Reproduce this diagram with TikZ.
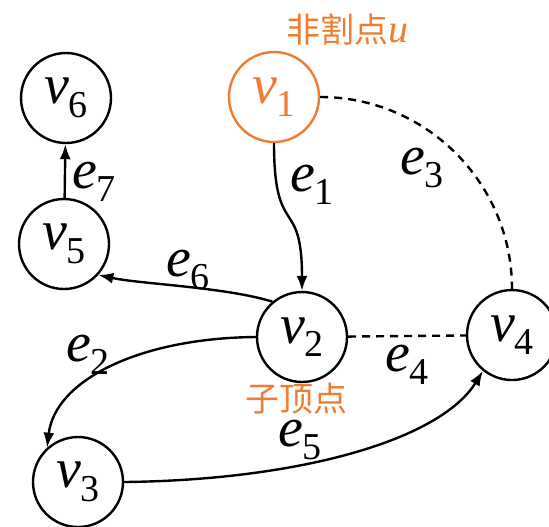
\documentclass[tikz,border=0pt]{standalone}
\usepackage{fontspec}
\setmainfont{Liberation Serif}
\newfontfamily\cjk{Noto Sans CJK SC}
\newfontfamily\tms{Liberation Serif}[ItalicFont={Liberation Serif Italic}]
\usepackage{tikz}
\usetikzlibrary{arrows.meta}
\definecolor{cutorange}{RGB}{237,125,49}
% letter with subscript
\newcommand{\vlab}[2]{{\tms\textit{#1}\raisebox{-0.24em}{\fontsize{19}{19}\selectfont #2}}}

\begin{document}
\begin{tikzpicture}[x=0.5pt, y=-0.5pt, line width=1.2pt,
    font=\fontsize{28}{30}\selectfont,
    vtx/.style={circle, draw, minimum size=45pt, inner sep=0pt},
    arr/.style={-{Latex[length=7.5pt,width=5.5pt]}},
    tag/.style={text=cutorange, font=\fontsize{17}{20}\selectfont}]
        \useasboundingbox (0,0) rectangle (549,526);

        % Vertices
        \node[vtx, draw=cutorange, text=cutorange] (v1) at (274,97) {\vlab{v}{1}};
        \foreach \n/\x/\y in {2/302/337, 3/78/482, 4/512/335, 5/64/244, 6/66/98} {
            \node[vtx] (v\n) at (\x,\y) {\vlab{v}{\n}};
        }

        % Edges
        \draw[arr] (v1) .. controls (274,240) and (302,195) .. (v2);
        \draw[dashed, dash pattern=on 4pt off 3pt] (v1) .. controls (426,97) and (512,183) .. (v4);
        \draw[arr] (v2.west) .. controls (140,338) and (55,380) .. (v3.132);
        \draw[dashed, dash pattern=on 4pt off 3pt] (v2) -- (v4);
        \draw[arr] (v3.east) .. controls (300,480) and (440,440) .. (v4.-129);
        \draw[arr] (v2.130) .. controls (225,287) and (140,284) .. (v5.-42);
        \draw[arr] (v5) -- (v6);

        % Edge labels
        \foreach \i/\x/\y in {1/312/185, 2/88/355, 3/422/168, 4/407/365, 5/300/440, 6/188/270, 7/94/182} {
            \node (e\i) at (\x,\y) {\vlab{e}{\i}};
        }

        % Notes
        \node[tag] (cut) at (347,29) {{\cjk 非割点}{\tms\textit{\fontsize{20}{20}\selectfont u}}};
        \node[tag] (child) at (296,399) {\cjk 子顶点};
    \end{tikzpicture}
\end{document}
